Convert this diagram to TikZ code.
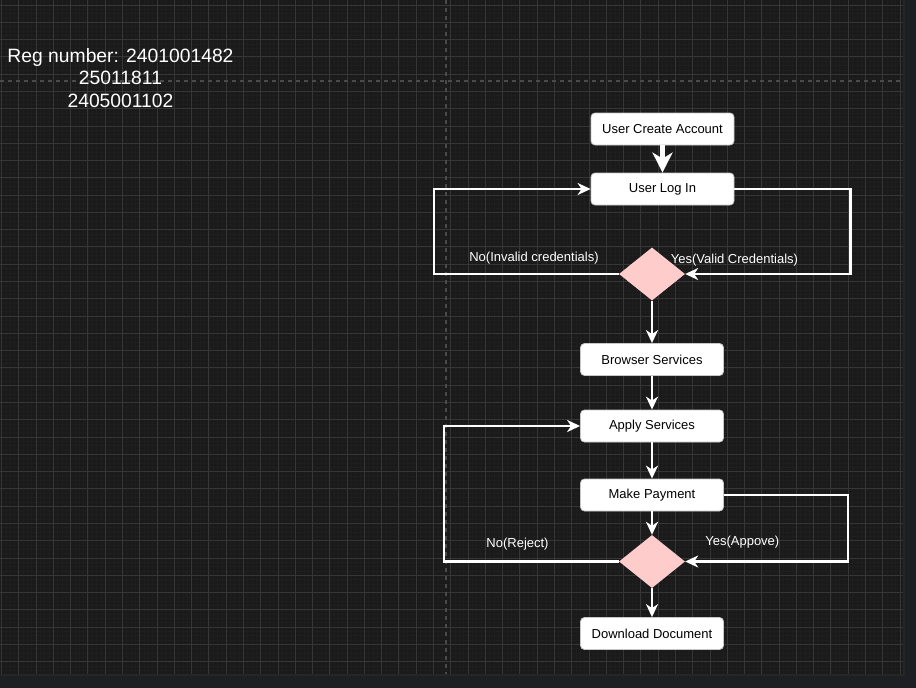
\documentclass[tikz,border=0pt]{standalone}
\usepackage{fontspec}
\setmainfont{Liberation Sans}
\usetikzlibrary{shapes.geometric,arrows.meta}

\definecolor{canvasbg}{HTML}{1A1A1A}
\definecolor{stripbg}{HTML}{1E1F22}
\definecolor{minorgrid}{HTML}{1E1E1E}
\definecolor{majorgrid}{HTML}{363636}
\definecolor{pagebreak}{HTML}{4A4A4A}
\definecolor{decisionfill}{HTML}{FFCCCC}

\begin{document}
\begin{tikzpicture}[
                            x=1pt, y=-1pt,
                            box/.style={rectangle, rounded corners=4pt, draw=gray!45, line width=0.8pt, fill=white,
                                minimum width=143pt, minimum height=32pt, inner sep=0pt,
                                font=\fontsize{13}{15}\selectfont, text=black},
                            decision/.style={diamond, fill=decisionfill, draw=none,
                                minimum width=66pt, minimum height=53pt, inner sep=0pt},
                            lbl/.style={text=white, inner sep=0pt, font=\fontsize{13}{15}\selectfont},
                            flow/.style={draw=white, line width=2.6pt, line join=miter,
                                -{Stealth[length=13pt, width=12pt, inset=4pt]}},
                            bigflow/.style={draw=white, line width=5pt,
                                -{Stealth[length=20pt, width=20pt, inset=6pt]}}
                        ]
                        % Canvas
                        \useasboundingbox (0,0) rectangle (916,688);
                        \fill[stripbg] (0,0) rectangle (916,688);
                        \fill[canvasbg] (0,0) rectangle (904,675);
                        \foreach \i in {0,...,208}
                            \draw[minorgrid, line width=0.6pt] ({1.5+\i*4.32},0) -- ++(0,675);
                        \foreach \i in {0,...,155}
                            \draw[minorgrid, line width=0.6pt] (0,{5+\i*4.32}) -- ++(904,0);
                        \foreach \i in {0,...,52}
                            \draw[majorgrid, line width=0.9pt] ({1.5+\i*17.28},0) -- ++(0,675);
                        \foreach \i in {0,...,38}
                            \draw[majorgrid, line width=0.9pt] (0,{5+\i*17.28}) -- ++(904,0);
                        \draw[pagebreak, line width=1.5pt, dash pattern=on 4pt off 4pt] (446,0) -- (446,675);
                        \draw[pagebreak, line width=1.5pt, dash pattern=on 4pt off 4pt] (0,81) -- (904,81);
                        \draw[black!85, line width=1.5pt] (904,0) -- (904,675) -- (0,675);

                        \node[text=white, align=center, font=\fontsize{19.3}{22.7}\selectfont] (reg) at (120.5,78)
                            {Reg number: 2401001482\\25011811\\2405001102};

                        % Blocks
                        \node[box] (create) at (662.5,129) {User Create Account};
                        \node[box, node distance=60pt, below of=create] (login) {User Log In};
                        \node[decision, node distance=85pt, below of=login, xshift=-10.5pt] (check) {};
                        \node[box, node distance=85.5pt, below of=check] (browse) {Browser Services};
                        \node[box, node distance=66.5pt, below of=browse] (apply) {Apply Services};
                        \node[box, node distance=69pt, below of=apply] (pay) {Make Payment};
                        \node[decision, node distance=66.5pt, below of=pay] (approve) {};
                        \node[box, node distance=72pt, below of=approve] (download) {Download Document};

                        % Labels
                        \node[lbl] (nocred) at (534,258) {No(Invalid credentials)};
                        \node[lbl] (yescred) at (734.5,260) {Yes(Valid Credentials)};
                        \node[lbl] (reject) at (517.5,544.3) {No(Reject)};
                        \node[lbl] (accept) at (742.3,541.7) {Yes(Appove)};

                        % Connections
                        \draw[bigflow] (create) -- (login);
                        \draw[flow] (check.west) -- ++(-185,0) |- (login.west);
                        \draw[flow] (login.east) -- ++(116,0) |- (check.east);
                        \draw[flow] (check) -- (browse);
                        \draw[flow] (browse) -- (apply);
                        \draw[flow] (apply) -- (pay);
                        \draw[flow] (pay) -- (approve);
                        \draw[flow] (pay.east) -- ++(124,0) |- (approve.east);
                        \draw[flow] (approve.west) -- ++(-175,0) |- (apply.west);
                        \draw[flow] (approve) -- (download);
                    \end{tikzpicture}
\end{document}
